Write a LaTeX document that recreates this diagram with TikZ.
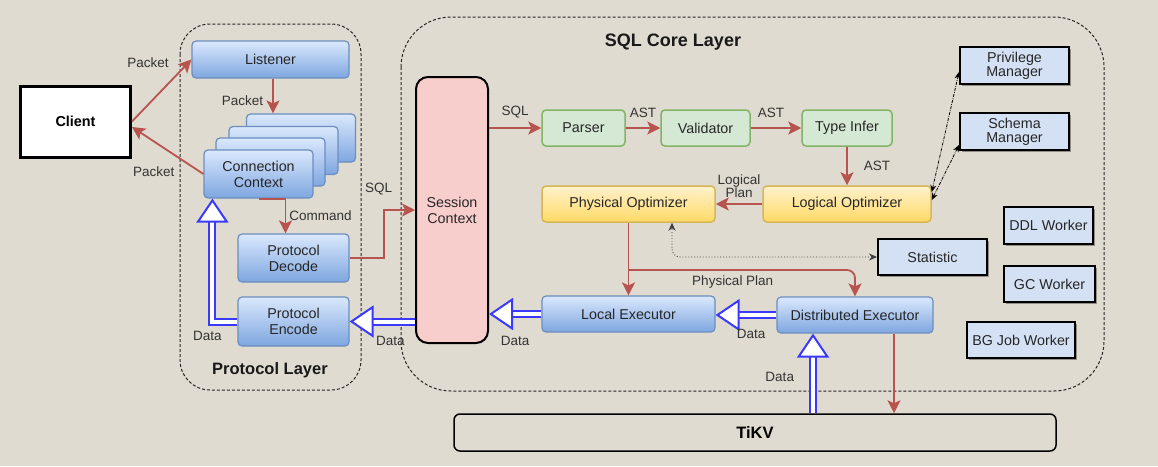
\documentclass[tikz,border=0pt]{standalone}
\usepackage{fontspec}
\setmainfont{Liberation Sans}
\usetikzlibrary{arrows.meta,shadows,calc}

\definecolor{bgcol}{HTML}{E0DBD0}
\definecolor{arrred}{HTML}{B85450}
\definecolor{arrblue}{HTML}{3A3AFF}
\definecolor{boxblue}{HTML}{6C8EBF}
\definecolor{blueA}{HTML}{DAE8FC}
\definecolor{blueB}{HTML}{7EA6E0}
\definecolor{greenfill}{HTML}{D5E8D4}
\definecolor{greendraw}{HTML}{82B366}
\definecolor{yellowA}{HTML}{FFF2CC}
\definecolor{yellowB}{HTML}{FFD966}
\definecolor{yellowdraw}{HTML}{D6B656}
\definecolor{pinkfill}{HTML}{F8CECC}
\definecolor{mgrfill}{HTML}{D4E1F5}

\tikzset{
  box/.style={rounded corners=4pt, minimum height=36pt, align=center, inner sep=2pt,
    text=black!85, font=\fontsize{14.3}{16}\selectfont},
  bluebox/.style={box, draw=boxblue, line width=1.2pt, top color=blueA, bottom color=blueB},
  greenbox/.style={box, draw=greendraw, line width=1.5pt, fill=greenfill},
  yellowbox/.style={box, draw=yellowdraw, line width=1.5pt, top color=yellowA, bottom color=yellowB},
  mgrbox/.style={box, rounded corners=0pt, draw=black, line width=2pt, fill=mgrfill,
    drop shadow={shadow xshift=2pt, shadow yshift=-2pt, opacity=0.35, fill=black}},
  layer/.style={draw=black!85, line width=1pt, dash pattern=on 3pt off 2pt},
  title/.style={font=\bfseries\fontsize{17}{19}\selectfont, text=black!90},
  lbl/.style={font=\fontsize{13.5}{15.5}\selectfont, text=black!80, inner sep=1pt, align=center},
  redarr/.style={draw=arrred, line width=1.8pt, -{Stealth[length=13pt, width=13pt, inset=3pt]}},
  hollow/.style={draw=arrblue, line width=2pt, double=white, double distance=4pt,
    -{Triangle[fill=white, length=24pt, width=32pt]}},
  dotarr/.style={draw=black!75, line width=0.9pt, dotted,
    {Stealth[length=8pt, width=7pt]}-{Stealth[length=8pt, width=7pt]}},
  dasharr/.style={draw=black, line width=0.8pt, dash pattern=on 3pt off 1.2pt on 0.8pt off 1.2pt,
    {Stealth[length=7pt, width=6pt]}-{Stealth[length=7pt, width=6pt]}}
}

\begin{document}
\begin{tikzpicture}[x=1pt, y=-1pt]

\fill[bgcol] (0,0) rectangle (1158,466);
\useasboundingbox (0,0) rectangle (1158,466);

% layers
\draw[layer, rounded corners=30pt] (180,24) rectangle (361,390);
\draw[layer, rounded corners=50pt] (401,17) rectangle (1104,391);
\node[title, font=\bfseries\fontsize{16.5}{19}\selectfont] (protitle) at (270,370) {Protocol Layer};
\node[title, font=\bfseries\fontsize{18}{20}\selectfont] (sqltitle) at (673,42) {SQL Core Layer};

\node[draw=black, line width=3pt, fill=white, minimum width=110pt, minimum height=71pt,
  font=\bfseries\fontsize{14.4}{16}\selectfont] (client) at (75.5,121.5) {Client};

% protocol layer
\node[bluebox, minimum width=157pt, minimum height=37pt] (listener) at (270.5,59.5) {Listener};
\node[bluebox, minimum width=109pt, minimum height=48pt] (cc4) at (301,138) {};
\node[bluebox, minimum width=109pt, minimum height=48pt] (cc3) at (283.5,150.5) {};
\node[bluebox, minimum width=109pt, minimum height=48pt] (cc2) at (270.5,162) {};
\node[bluebox, minimum width=109pt, minimum height=48pt] (cc) at (258.5,174) {Connection\\Context};
\node[bluebox, minimum width=111pt, minimum height=48pt] (decode) at (293.5,258) {Protocol\\Decode};
\node[bluebox, minimum width=111pt, minimum height=49pt] (encode) at (293.5,321.5) {Protocol\\Encode};

% sql core layer
\node[box, draw=black, line width=2pt, fill=pinkfill, rounded corners=12pt,
  minimum width=72pt, minimum height=266pt] (session) at (452,210) {Session\\Context};
\node[greenbox, minimum width=83pt] (parser) at (583.5,128) {Parser};
\node[greenbox, minimum width=89pt] (validator) at (705.5,128) {Validator};
\node[greenbox, minimum width=90pt] (typeinfer) at (847,128) {Type Infer};
\node[yellowbox, minimum width=168pt] (logopt) at (847,204) {Logical Optimizer};
\node[yellowbox, minimum width=173pt] (physopt) at (628.5,204) {Physical Optimizer};
\node[bluebox, minimum width=173pt] (localexec) at (628.5,314) {Local Executor};
\node[bluebox, minimum width=156pt] (distexec) at (855,315) {Distributed Executor};

\node[mgrbox, minimum width=109pt, minimum height=37pt] (priv) at (1014.5,65.5) {Privilege\\[-2pt]Manager};
\node[mgrbox, minimum width=109pt, minimum height=37pt] (schema) at (1014.5,131.5) {Schema\\[-2pt]Manager};
\node[mgrbox, minimum width=89pt, minimum height=37pt] (ddl) at (1048.5,225.5) {DDL Worker};
\node[mgrbox, minimum width=109pt] (statistic) at (932.5,257) {Statistic};
\node[mgrbox, minimum width=91pt] (gc) at (1049.5,284) {GC Worker};
\node[mgrbox, minimum width=108pt] (bgjob) at (1021,340) {BG Job Worker};

\node[draw=black, line width=1.5pt, rounded corners=6pt, minimum width=602pt, minimum height=37pt,
  font=\bfseries\fontsize{16.5}{18}\selectfont] (tikv) at (755,432.5) {TiKV};

% connectors
\draw[redarr] (client.east) -- (listener.west) node[lbl, pos=0.95, left=18pt] (pk1) {Packet};
\draw[redarr] (cc.west) -- ([yshift=-5.5pt]client.east) node[lbl, pos=0.38, anchor=east, yshift=-16pt] (pk2) {Packet};
\draw[redarr] ([xshift=2.5pt]listener.south) -- ([xshift=2.5pt]listener.south |- cc4.north)
  node[lbl, midway, left=8pt, yshift=-4.5pt] (pk3) {Packet};
\draw[redarr] (cc.south) -| ([xshift=-8pt]decode.north) node[lbl, pos=0.75, right=2pt] (cmd) {Command};
\draw[redarr] (decode.east) -- ++(34,0) |- (session.west) node[lbl, pos=0.5, above=13pt, xshift=-5pt] (sql1) {SQL};

\draw[hollow] (session.west |- encode.east) -- (encode.east) node[lbl, midway, below=13pt, xshift=8pt] (d1) {Data};
\coordinate (ccin) at ([xshift=9pt]cc.south west);
\draw[hollow] (encode.west) -| (ccin) node[lbl, pos=0.5, below=8pt, xshift=-5pt] (d2) {Data};

\draw[redarr] (session.east |- parser.west) -- (parser.west) node[lbl, midway, above=8pt] (sql2) {SQL};
\draw[redarr] (parser) -- (validator) node[lbl, midway, above=8pt] (ast1) {AST};
\draw[redarr] (validator) -- (typeinfer) node[lbl, midway, above=8pt, xshift=-5pt] (ast2) {AST};
\draw[redarr] (typeinfer) -- (logopt) node[lbl, midway, right=15pt] (ast3) {AST};
\draw[redarr] (logopt) -- (physopt) node[lbl, midway, above=4pt] (lplan) {Logical\\[-2pt]Plan};
\draw[redarr] (physopt) -- (localexec);
\coordinate (fork) at ($(physopt.south)!0.65!(localexec.north)$);
\draw[redarr, rounded corners=8pt] (fork) -| (distexec.north) node[lbl, pos=0.25, below=4pt, xshift=-9pt] (pplan) {Physical Plan};

\coordinate (statin) at ([xshift=43.5pt]physopt.south);
\draw[dotarr, rounded corners=8pt] (statistic.west) -| (statin);
\draw[dasharr] ([yshift=12pt]logopt.east) -- ([yshift=-6.5pt]priv.west);
\draw[dasharr] ([yshift=4pt]logopt.east) -- ([yshift=-13.5pt]schema.west);

\draw[hollow] (distexec.west) -- (localexec.east |- distexec.west) node[lbl, midway, below=12pt, xshift=5pt] (d3) {Data};
\draw[hollow] (localexec.west) -- (session.east |- localexec.west) node[lbl, midway, below=20pt] (d4) {Data};

\coordinate (dxin) at ([xshift=-42pt]distexec.south);
\coordinate (dxout) at ([xshift=39pt]distexec.south);
\draw[hollow] (dxin |- tikv.north) -- (dxin) node[lbl, midway, left=17pt, yshift=-3.5pt] (d5) {Data};
\draw[redarr] (dxout) -- (dxout |- tikv.north);

\end{tikzpicture}
\end{document}
